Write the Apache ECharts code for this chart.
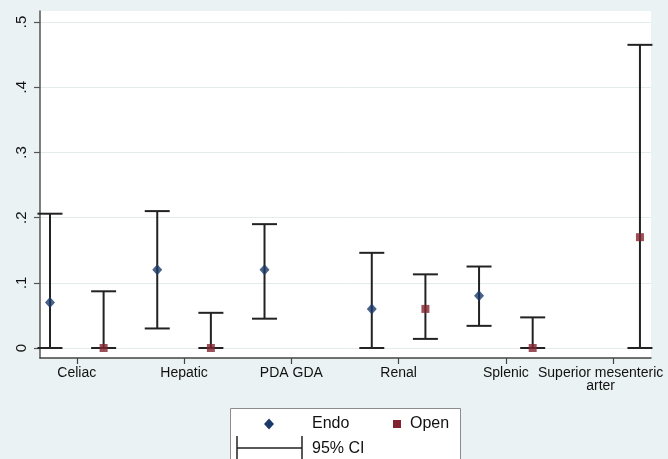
<!DOCTYPE html>
<html><head><meta charset="utf-8">
<script src="https://cdn.jsdelivr.net/npm/echarts@6/dist/echarts.min.js"></script>
<style>html,body{margin:0;padding:0;background:#eaf2f3}#c{width:668px;height:459px}</style>
</head><body><div id="c"></div>
<script>
const categories = ['Celiac', 'Hepatic', 'PDA GDA', 'Renal', 'Splenic', 'Superior mesenteric\narter'];
const endoEst = [0.07, 0.12, 0.12, 0.06, 0.08, null];
const endoLo  = [0, 0.03, 0.045, 0, 0.034, null];
const endoHi  = [0.206, 0.21, 0.19, 0.146, 0.125, null];
const openEst = [0, 0, null, 0.06, 0, 0.17];
const openLo  = [0, 0, null, 0.014, 0, 0];
const openHi  = [0.087, 0.054, null, 0.113, 0.047, 0.465];
const yTicks = [0, 0.1, 0.2, 0.3, 0.4, 0.5];
const yTickLabels = ['0', '.1', '.2', '.3', '.4', '.5'];
const legendNames = ['Endo', 'Open', '95% CI'];

const OFF = 0.25;
const catPos = categories.map((c, i) => i + 1);
function pts(est, shift) {
  const out = [];
  est.forEach((v, i) => { if (v !== null) out.push([catPos[i] + shift, v]); });
  return out;
}
function bars(lo, hi, shift) {
  const out = [];
  lo.forEach((v, i) => { if (v !== null) out.push([catPos[i] + shift, v, hi[i]]); });
  return out;
}
const ciData = bars(endoLo, endoHi, -OFF).concat(bars(openLo, openHi, OFF));

const FONT = '"Liberation Sans", Arial, sans-serif';
const NAVY = '#1b3a68';
const MAROON = '#82232f';
const chart = echarts.init(document.getElementById('c'), null, {renderer: 'canvas'});
chart.setOption({
  backgroundColor: '#eaf2f3',
  animation: false,
  grid: {left: 40, right: 17, top: 11, bottom: 101, show: true, backgroundColor: '#ffffff', borderWidth: 0,
    containLabel: false, outerBoundsMode: 'none'},
  xAxis: {
    type: 'value', min: 0.657, max: 6.353,
    axisLine: {show: true, onZero: false, lineStyle: {color: '#444', width: 1.5}},
    axisTick: {show: true, customValues: catPos, length: 6, lineStyle: {color: '#444', width: 1.2}},
    axisLabel: {customValues: catPos, margin: 9, fontSize: 14, lineHeight: 13, color: '#111', fontFamily: FONT,
      hideOverlap: false,
      rich: {s: {fontSize: 14, lineHeight: 13, color: '#111', fontFamily: FONT, padding: [0, 25, 0, 0]}},
      formatter: v => {
        const i = Math.round(v) - 1;
        const t = categories[i] || '';
        if (i === categories.length - 1) return t.split('\n').map(l => '{s|' + l + '}').join('\n');
        return t;
      }},
    splitLine: {show: false}
  },
  yAxis: {
    type: 'value', min: -0.0153, max: 0.5169,
    axisLine: {show: true, onZero: false, lineStyle: {color: '#555', width: 1.5}},
    axisTick: {show: true, customValues: yTicks, length: 6, lineStyle: {color: '#555', width: 1.2}},
    axisLabel: {customValues: yTicks, rotate: 90, margin: 11, fontSize: 15, color: '#111', fontFamily: FONT,
      formatter: v => yTickLabels[yTicks.findIndex(t => Math.abs(t - v) < 1e-9)]},
    splitLine: {show: true, lineStyle: {color: '#e3ebed', width: 1}}
  },
  series: [
    {
      type: 'custom', name: legendNames[2], data: ciData, encode: {x: 0, y: [1, 2]}, z: 2,
      renderItem: function (params, api) {
        const x = api.value(0), lo = api.value(1), hi = api.value(2);
        const a = api.coord([x, lo]), b = api.coord([x, hi]);
        const w = 12.5;
        const st = {stroke: '#222', lineWidth: 2};
        return {type: 'group', children: [
          {type: 'line', shape: {x1: a[0], y1: a[1], x2: b[0], y2: b[1]}, style: st},
          {type: 'line', shape: {x1: a[0] - w, y1: a[1], x2: a[0] + w, y2: a[1]}, style: st},
          {type: 'line', shape: {x1: b[0] - w, y1: b[1], x2: b[0] + w, y2: b[1]}, style: st}
        ]};
      }
    },
    {type: 'scatter', name: legendNames[0], data: pts(endoEst, -OFF), symbol: 'diamond', symbolSize: [10, 11],
      itemStyle: {color: NAVY}, z: 5},
    {type: 'scatter', name: legendNames[1], data: pts(openEst, OFF), symbol: 'rect', symbolSize: 8,
      itemStyle: {color: MAROON}, z: 5}
  ],
  graphic: [
    {type: 'rect', shape: {x: 230.5, y: 408.5, width: 230, height: 60}, style: {fill: '#fff', stroke: '#8c8c8c', lineWidth: 1}, z: 10},
    {type: 'polygon', shape: {points: [[269, 418.5], [274, 424], [269, 429.5], [264, 424]]}, style: {fill: NAVY}, z: 11},
    {type: 'text', x: 312, y: 424, style: {text: legendNames[0], font: '16px ' + FONT, fill: '#111', verticalAlign: 'middle'}, z: 11},
    {type: 'rect', shape: {x: 393, y: 420, width: 8, height: 8}, style: {fill: MAROON}, z: 11},
    {type: 'text', x: 410, y: 424, style: {text: legendNames[1], font: '16px ' + FONT, fill: '#111', verticalAlign: 'middle'}, z: 11},
    {type: 'line', shape: {x1: 237, y1: 448, x2: 302, y2: 448}, style: {stroke: '#222', lineWidth: 1.5}, z: 11},
    {type: 'line', shape: {x1: 237, y1: 436, x2: 237, y2: 460}, style: {stroke: '#222', lineWidth: 1.5}, z: 11},
    {type: 'line', shape: {x1: 302, y1: 436, x2: 302, y2: 460}, style: {stroke: '#222', lineWidth: 1.5}, z: 11},
    {type: 'text', x: 312, y: 449, style: {text: legendNames[2], font: '16px ' + FONT, fill: '#111', verticalAlign: 'middle'}, z: 11}
  ]
});
</script></body></html>
